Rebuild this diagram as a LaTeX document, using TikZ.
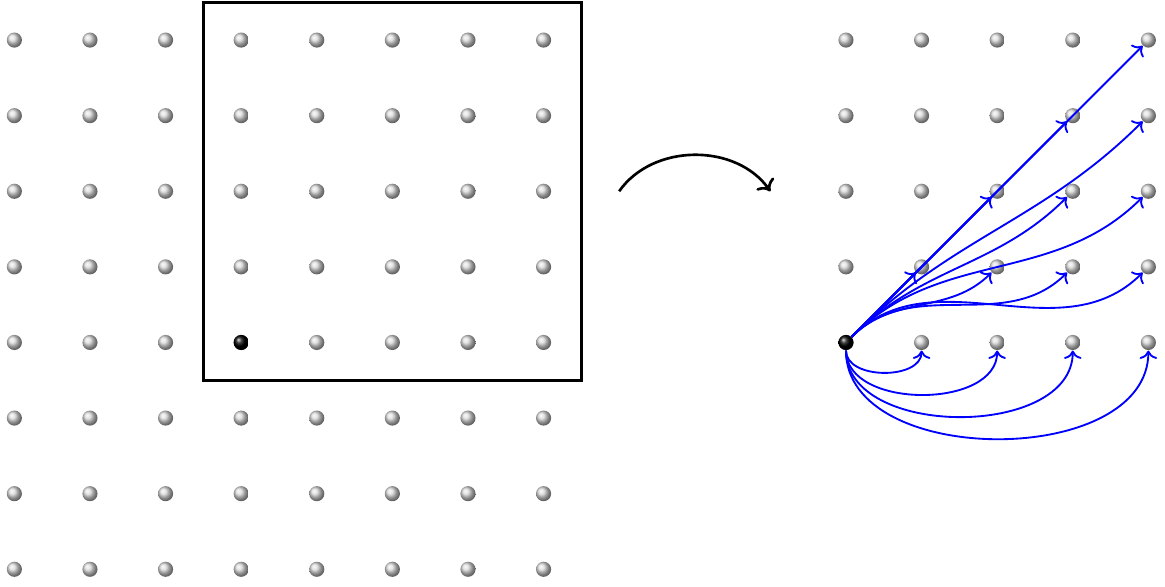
\documentclass[tikz,border=0pt]{standalone}
\usepackage{tikz}
\usetikzlibrary{arrows.meta,positioning,shadings}

\begin{document}
\begin{tikzpicture}[
    dot/.style={
      circle,
      inner sep=0pt,
      minimum size=0.2cm,
      shading=ball,
      ball color=gray!30
    },
    seed/.style={
      dot,
      ball color=black
    },
    window/.style={
      line width=1pt,
      draw=black
    },
    link/.style={
      ->,
      line width=0.7pt,
      color=blue
    },
    moveto/.style={
      ->,
      line width=1pt
    }
  ]

  \useasboundingbox (-0.19,-0.225) rectangle (15.22,7.53);

  % Left grid
  \foreach \i in {0,...,7}
    \foreach \j in {0,...,7}
      \node[dot] (l-\i-\j) at (\i,\j) {};
  \node[seed] (l-3-3) at (3,3) {};

  % Window
  \draw[window] (2.5,2.5) rectangle (7.5,7.5);

  % Move
  \coordinate (m1) at (8,5);
  \coordinate (m2) at (10,5);
  \draw[moveto] (m1) to[out=55,in=125] (m2);

  % Right grid
  \foreach \a in {0,...,4}
    \foreach \b in {0,...,4}
      \node[dot] (r-\a-\b) at (11+\a,3+\b) {};
  \node[seed] (r-0-0) at (11,3) {};

  % Links
  \foreach \a in {1,...,4}
    \draw[link] (r-0-0) -- (r-\a-\a);
  \foreach \a in {1,...,4}
    \draw[link] (r-0-0) to[out=-90,in=-90] (r-\a-0);
  \foreach \a/\b in {2/1,3/1,4/1,3/2,4/2,4/3}
    \draw[link] (r-0-0) to[out=45,in=225] (r-\a-\b);

\end{tikzpicture}
\end{document}
